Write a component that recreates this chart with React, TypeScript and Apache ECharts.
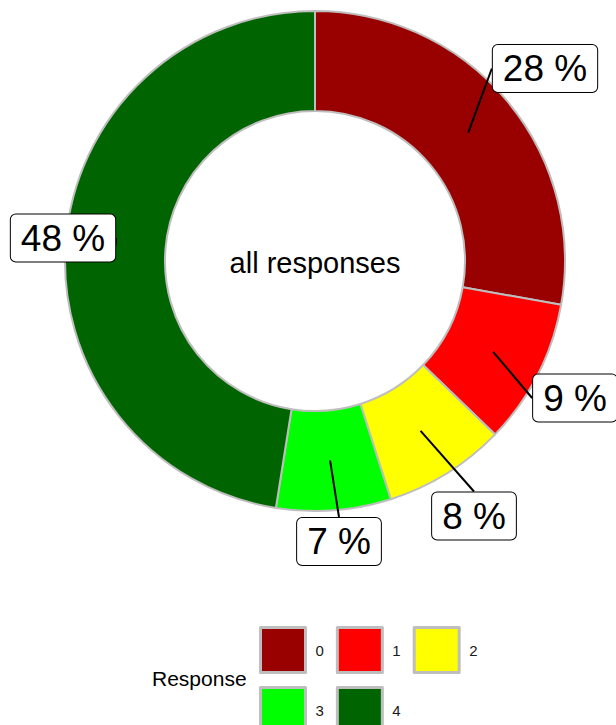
import React, { useEffect, useRef } from "react";
import * as echarts from "echarts";

// ---- data ----
const categories = ["0", "1", "2", "3", "4"];
const shares = [27.8, 9.4, 7.9, 7.4, 47.5];
const percentLabels = [28, 9, 8, 7, 48];
const sliceColors = ["#990000", "#FF0000", "#FFFF00", "#00FF00", "#006400"];
const legendTitle = "Response";
const centerLabel = "all responses";

// ---- layout (label box centres, px) ----
const labelCentres: number[][] = [
  [545, 68.5],
  [575, 398],
  [474, 516],
  [339, 541.5],
  [63, 238],
];

const FONT = "'Liberation Sans', Arial, Helvetica, sans-serif";

export default function App() {
  const ref = useRef<HTMLDivElement>(null);

  useEffect(() => {
    if (!ref.current) return;
    const chart = echarts.init(ref.current, null, { renderer: "svg" });

    const option: any = {
      animation: false,
      backgroundColor: "#ffffff",
      textStyle: { fontFamily: FONT },
      legend: {
        data: categories,
        orient: "horizontal",
        left: 259,
        top: 626,
        width: 240,
        padding: 0,
        itemWidth: 45,
        itemHeight: 45,
        itemGap: 12,
        icon: "rect",
        selectedMode: false,
        itemStyle: { borderColor: "#BEBEBE", borderWidth: 3 },
        textStyle: {
          fontFamily: FONT,
          fontSize: 15,
          color: "#1a1a1a",
          padding: [0, 0, 0, 5],
        },
      },
      graphic: [
        {
          type: "text",
          x: 315,
          y: 263,
          silent: true,
          style: {
            text: centerLabel,
            font: `29px ${FONT}`,
            fill: "#000000",
            align: "center",
            verticalAlign: "middle",
            textAlign: "center",
            textVerticalAlign: "middle",
          },
        },
        {
          type: "text",
          x: 152,
          y: 678,
          silent: true,
          style: {
            text: legendTitle,
            font: `21px ${FONT}`,
            fill: "#000000",
            align: "left",
            verticalAlign: "middle",
            textAlign: "left",
            textVerticalAlign: "middle",
          },
        },
      ],
      series: [
        {
          type: "pie",
          name: "slices",
          z: 2,
          center: [315, 261],
          radius: [150, 250],
          startAngle: 90,
          clockwise: true,
          avoidLabelOverlap: false,
          silent: true,
          label: { show: false },
          labelLine: { show: false },
          itemStyle: { borderColor: "#BEBEBE", borderWidth: 2 },
          emphasis: { disabled: true },
          data: categories.map((c, i) => ({
            name: c,
            value: shares[i],
            itemStyle: { color: sliceColors[i] },
          })),
        },
        {
          type: "pie",
          name: "labels",
          z: 5,
          center: [315, 261],
          radius: [199, 200],
          startAngle: 90,
          clockwise: true,
          avoidLabelOverlap: false,
          silent: true,
          emphasis: { disabled: true },
          itemStyle: { color: "rgba(0,0,0,0)", borderWidth: 0 },
          label: {
            show: true,
            position: "outside",
            formatter: (p: any) => `${percentLabels[p.dataIndex]} %`,
            color: "#000000",
            fontFamily: FONT,
            fontSize: 37,
            lineHeight: 37,
            backgroundColor: "#ffffff",
            borderColor: "#000000",
            borderWidth: 1,
            borderRadius: 5,
            padding: [5, 10],
          },
          labelLine: {
            show: true,
            length: 0,
            length2: 0,
            lineStyle: { color: "#000000", width: 2 },
          },
          labelLayout: (p: any) => {
            const c = labelCentres[p.dataIndex];
            return { x: c[0], y: c[1], align: "center", verticalAlign: "middle" };
          },
          data: categories.map((c, i) => ({ name: c, value: shares[i] })),
        },
      ],
    };

    chart.setOption(option);
    return () => chart.dispose();
  }, []);

  return (
    <div
      ref={ref}
      style={{ position: "absolute", left: 0, top: 0, width: 616, height: 725 }}
    />
  );
}
